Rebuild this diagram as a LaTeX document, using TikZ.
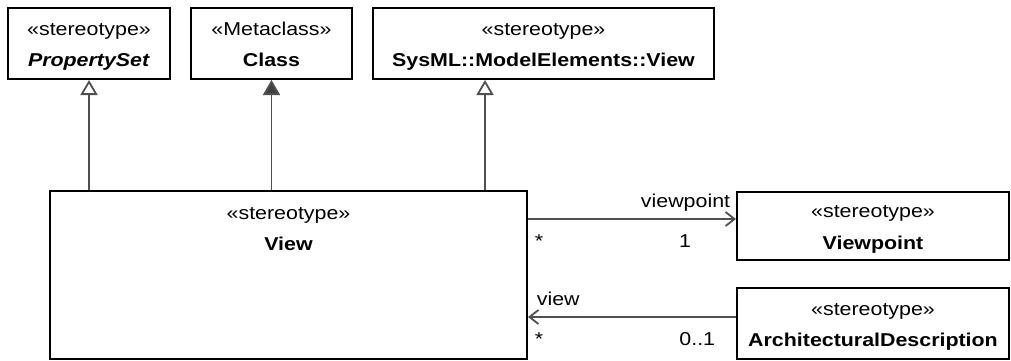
\documentclass[tikz,border=0pt]{standalone}
\usepackage{fontspec}
\setmainfont[FakeStretch=1.15]{Liberation Sans}
\usetikzlibrary{arrows.meta,positioning}
\definecolor{linegray}{HTML}{505050}
\definecolor{headgray}{HTML}{404040}
\newcommand{\umlstrut}{\rule[-2pt]{0pt}{11.35pt}}
\newcommand{\umltext}[2]{\umlstrut#1\\\umlstrut\textbf{#2}}
\tikzset{
  umlclass/.style={
    draw,
    line width=1pt,
    align=center,
    inner sep=0pt,
    font=\fontsize{9.3}{15.85}\selectfont
  },
  umltitle/.style={align=center, inner sep=0pt, font=\fontsize{9.3}{15.85}\selectfont},
  gen/.style={draw=linegray, line width=0.9pt, -{Triangle[open, fill=white, length=7.5pt, width=8.5pt]}},
  ext/.style={draw=linegray, line width=0.9pt, -{Triangle[length=7.5pt, width=8.5pt, fill=headgray]}},
  assoc/.style={draw=linegray, line width=0.9pt, -{Straight Barb[length=4.5pt, width=7pt]}},
  role/.style={inner sep=1pt, font=\fontsize{9.3}{12}\selectfont, text height=0.75em, text depth=0.25em}
}

\begin{document}
\begin{tikzpicture}[x=0.5pt, y=-0.5pt]
        \useasboundingbox (0,0) rectangle (1011,360);

        % metaclasses on top
        \node[umlclass, minimum width=81pt, minimum height=35.5pt] (PropertySet) at (89,43.5)
            {\umltext{«stereotype»}{\textit{PropertySet}}};
        \node[umlclass, minimum width=80.5pt, minimum height=35.5pt] (Class) at (271.5,43.5)
            {\umltext{«Metaclass»}{Class}};
        \node[umlclass, minimum width=170.5pt, minimum height=35.5pt] (SysML) at (543.5,43.5)
            {\umltext{«stereotype»}{SysML::ModelElements::View}};

        % the stereotype itself
        \node[umlclass, minimum width=238.5pt, minimum height=84pt] (View) at (288.5,275) {};
        \node[umltitle] (ViewTitle) at (288.5,227.5) {\umltext{«stereotype»}{View}};

        % associated stereotypes
        \node[umlclass, minimum width=136pt, minimum height=34pt] (Viewpoint) at (873,226)
            {\umltext{«stereotype»}{Viewpoint}};
        \node[umlclass, minimum width=136pt, minimum height=35.5pt] (ArchDesc) at (873,323.5)
            {\umltext{«stereotype»}{ArchitecturalDescription}};

        % generalizations and extension
        \coordinate (sysfoot) at ([xshift=-29.25pt]SysML.south);
        \draw[gen] (View.north -| PropertySet.south) -- (PropertySet.south);
        \draw[ext] (View.north -| Class.south) -- (Class.south);
        \draw[gen] (View.north -| sysfoot) -- (sysfoot);

        % associations
        \coordinate (vpend) at ([yshift=3.5pt]Viewpoint.west);
        \coordinate (adend) at ([yshift=3.25pt]ArchDesc.west);
        \draw[assoc] (vpend -| View.east) -- (vpend)
            node[role, pos=0, below right=5.3pt and 2pt] (vpstar) {*}
            node[role, pos=1, below left=5.3pt and 21pt] (vpone) {1}
            node[role, pos=1, above left=2pt and 1.5pt] (vprole) {viewpoint};
        \draw[assoc] (adend) -- (adend -| View.east)
            node[role, pos=1, below right=5.3pt and 2pt] (adstar) {*}
            node[role, pos=0, below left=5.3pt and 9pt] (admult) {0..1}
            node[role, pos=1, above right=2pt and 3pt] (adrole) {view};
\end{tikzpicture}
\end{document}
